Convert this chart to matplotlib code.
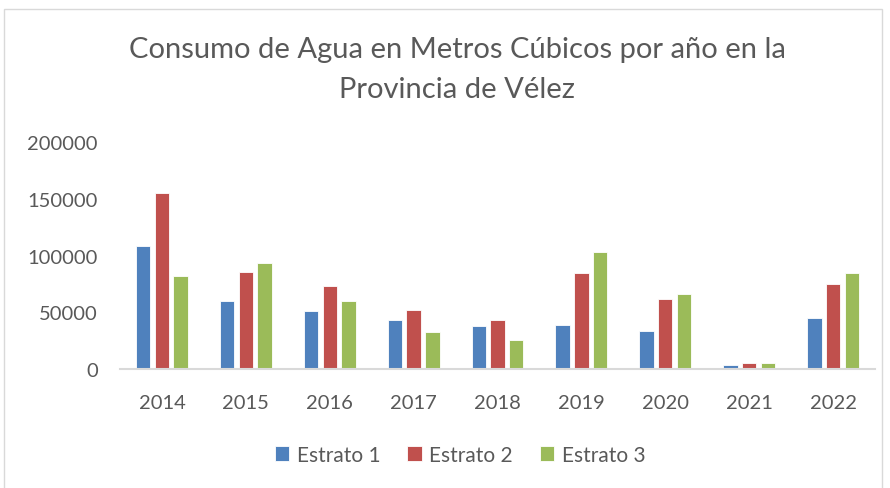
import numpy as np
import matplotlib.pyplot as plt
from matplotlib.patches import Rectangle

# Datos
anios = ["2014", "2015", "2016", "2017", "2018", "2019", "2020", "2021", "2022"]
estrato1 = [108300, 59800, 51200, 43000, 37700, 38900, 33300, 3300, 44800]
estrato2 = [155100, 85400, 73300, 52100, 43500, 84500, 61800, 5600, 75300]
estrato3 = [82100, 93300, 60000, 32400, 25300, 103300, 66000, 5300, 84800]

series = [("Estrato 1", estrato1, "#4F81BD"),
          ("Estrato 2", estrato2, "#C0504D"),
          ("Estrato 3", estrato3, "#9BBB59")]

plt.rcParams['font.family'] = ['Lato', 'DejaVu Sans']
gris = "#595959"

fig = plt.figure(figsize=(8.9, 4.89), dpi=100)
ax = fig.add_axes([120/890, 1-370/489, 755/890, 227/489])

x = np.arange(len(anios))
paso = 0.223
for k, (nombre, vals, color) in enumerate(series):
    ax.bar(x + (k-1)*paso, vals, width=0.172, color=color, label=nombre,
           edgecolor="white", linewidth=0.6)

ax.set_xlim(-0.5, len(anios)-0.5)
ax.set_ylim(0, 200000)
ax.set_yticks([0, 50000, 100000, 150000, 200000])
ax.set_yticklabels(["0", "50000", "100000", "150000", "200000"])
ax.set_xticks(x)
ax.set_xticklabels(anios)
ax.tick_params(axis='both', length=0, labelsize=14.5, colors=gris)
ax.tick_params(axis='x', pad=18)
ax.tick_params(axis='y', pad=16)
for s in ["top", "right", "left"]:
    ax.spines[s].set_visible(False)
ax.spines["bottom"].set_color("#d9d9d9")
ax.spines["bottom"].set_linewidth(1.5)

fig.text(457/890, 1-50/489, "Consumo de Agua en Metros Cúbicos por año en la",
         ha="center", va="center", fontsize=21, color=gris)
fig.text(457/890, 1-90/489, "Provincia de Vélez",
         ha="center", va="center", fontsize=21, color=gris)

fig.legend(loc="center", bbox_to_anchor=(460/890, 1-456/489), ncol=3,
           frameon=False, fontsize=15, labelcolor=gris, handlelength=0.7,
           handleheight=0.7, handletextpad=0.35, columnspacing=1.3)

# borde del grafico
fig.patches.append(Rectangle((4/890, -0.01), 878/890, 1-10/489+0.01,
                             transform=fig.transFigure, fill=False,
                             edgecolor="#d9d9d9", linewidth=1))

plt.savefig("out.png", dpi=100)
